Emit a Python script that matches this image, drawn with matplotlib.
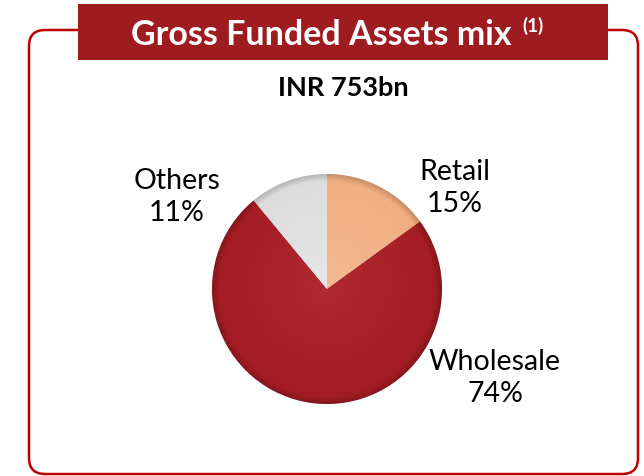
import matplotlib
matplotlib.use("Agg")
import numpy as np
import matplotlib.pyplot as plt
from matplotlib.patches import FancyBboxPatch, Rectangle
from matplotlib.colors import to_rgb

categories = ["Retail", "Wholesale", "Others"]
shares = [15, 74, 11]
title = "Gross Funded Assets mix"
title_note = "(1)"
subtitle = "INR 753bn"

colors = ["#F0AE80", "#A31C23", "#DCDCDC"]
light = ["#F7C8A2", "#C23A42", "#F2F2F2"]

W, H = 644, 477
fig = plt.figure(figsize=(W / 100, H / 100), dpi=100)
plt.rcParams['font.family'] = ['Lato', 'DejaVu Sans']

# overlay axes in pixel coordinates
ov = fig.add_axes([0, 0, 1, 1])
ov.set_xlim(0, W)
ov.set_ylim(H, 0)
ov.axis("off")

border = FancyBboxPatch((29, 31), 609, 444, boxstyle="round,pad=0,rounding_size=16",
                        fill=False, edgecolor="#C00000", linewidth=1.8)
ov.add_patch(border)
ov.add_patch(Rectangle((78, 5), 530, 56, facecolor="#9E1B20", edgecolor="none", zorder=3))
ov.text(131, 35, title, color="white", fontsize=24.5, fontweight="bold",
        ha="left", va="center", zorder=4)
ov.text(522, 26, title_note, color="white", fontsize=13.5, fontweight="bold",
        ha="left", va="center", zorder=4)
ov.text(343, 88, subtitle, color="black", fontsize=19.5, fontweight="bold",
        ha="center", va="center")

# pie axes
cx, cy, r = 327, 290, 115
ax = fig.add_axes([(cx - r) / W, (H - cy - r) / H, 2 * r / W, 2 * r / H])
wedges, _ = ax.pie(shares, colors=colors, startangle=90, counterclock=False,
                   wedgeprops=dict(edgecolor="white", linewidth=0.5))
ax.set_xlim(-1, 1)
ax.set_ylim(-1, 1)
ax.set_aspect("auto")
ax.axis("off")

# soft shading inside each wedge
n = 300
xs = np.linspace(-1, 1, n)
xx, yy = np.meshgrid(xs, xs[::-1])
rr = np.sqrt(xx ** 2 + yy ** 2)
for w, base, lt in zip(wedges, colors, light):
    b = np.array(to_rgb(base))
    l = np.array(to_rgb(lt))
    f = np.clip(0.55 * (1 - rr) * (0.6 + 0.4 * (yy + 1) / 2), 0, 1)
    img = b[None, None, :] * (1 - f[..., None]) + l[None, None, :] * f[..., None]
    rim = np.clip((rr - 0.94) / 0.06, 0, 1)
    img = img * (1 - 0.18 * rim[..., None])
    im = ax.imshow(np.clip(img, 0, 1), extent=(-1, 1, -1, 1), zorder=1.5,
                   interpolation="bilinear", aspect="auto")
    im.set_clip_path(w)
ax.set_xlim(-1, 1)
ax.set_ylim(-1, 1)

label_pos = {"Retail": (455, 188), "Wholesale": (495, 378), "Others": (177, 197)}
for c, s in zip(categories, shares):
    x, y = label_pos[c]
    ov.text(x, y, f"{c}\n{s}%", fontsize=20.5, ha="center", va="center",
            linespacing=1.25, color="black")

fig.savefig("out.png", dpi=100)
